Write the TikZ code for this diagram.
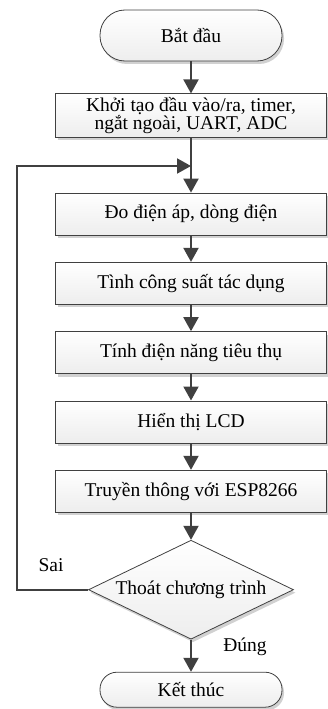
\documentclass[tikz,border=0pt]{standalone}
\usepackage{fontspec}
\setmainfont{Liberation Serif}
\usetikzlibrary{shapes.geometric, arrows.meta, shadows}
\definecolor{linegray}{HTML}{404040}
\tikzstyle{startstop} = [rectangle, minimum width=182pt, text centered, draw=linegray, line width=0.8pt, top color=white, bottom color=gray!14, drop shadow={shadow xshift=2pt, shadow yshift=-3pt, fill=black!30, opacity=0.6}]
\tikzstyle{process} = [rectangle, minimum width=271pt, minimum height=42pt, text centered, draw=linegray, line width=0.8pt, top color=white, bottom color=gray!14, drop shadow={shadow xshift=2pt, shadow yshift=-3pt, fill=black!30, opacity=0.6}]
\tikzstyle{decision} = [diamond, shape aspect=2.07, minimum width=205pt, minimum height=99pt, inner sep=0pt, text centered, draw=linegray, line width=0.8pt, top color=white, bottom color=gray!14, drop shadow={shadow xshift=2pt, shadow yshift=-3pt, fill=black!30, opacity=0.6}]
\tikzstyle{arrow} = [line width=2pt, draw=linegray, -{Triangle[width=15pt, length=14pt]}]

\begin{document}
\begin{tikzpicture}[x=1pt, y=1pt, node distance=69.3pt, font=\fontsize{19.5}{17}\selectfont]
  \useasboundingbox (0,0) rectangle (327,-709);
  \node(start)[startstop, minimum height=51pt, rounded corners=25pt] at (191,-35.5) {Bắt đầu};
  \node(init)[process, minimum height=41pt, align=center, below of=start, node distance=80pt]{Khởi tạo đầu vào/ra, timer,\\ngắt ngoài, UART, ADC};
  \node(meas)[process, below of=init, node distance=98.5pt]{Đo điện áp, dòng điện};
  \node(power)[process, below of=meas]{Tình công suất tác dụng};
  \node(energy)[process, below of=power]{Tính điện năng tiêu thụ};
  \node(lcd)[process, below of=energy]{Hiển thị LCD};
  \node(esp)[process, below of=lcd]{Truyền thông với ESP8266};
  \node(check)[decision, below of=esp, node distance=98.5pt]{Thoát chương trình};
  \node(stop)[startstop, minimum height=35pt, rounded corners=17pt, below of=check, node distance=100pt]{Kết thúc};
  \coordinate(join) at (191,-166);
  \node(no) at (51,-565) {Sai};
  \node(yes) at (245,-647) {Đúng};
  \draw[arrow] (start)--(init);
  \draw[line width=2pt, draw=linegray] (init)--(join);
  \draw[arrow] (join)--(meas);
  \draw[arrow] (meas)--(power);
  \draw[arrow] (power)--(energy);
  \draw[arrow] (energy)--(lcd);
  \draw[arrow] (lcd)--(esp);
  \draw[arrow] (esp)--(check);
  \draw[arrow] (check)--(stop);
  \draw[arrow] (check.west) -- ++(-71,0) |- (join);
\end{tikzpicture}
\end{document}
